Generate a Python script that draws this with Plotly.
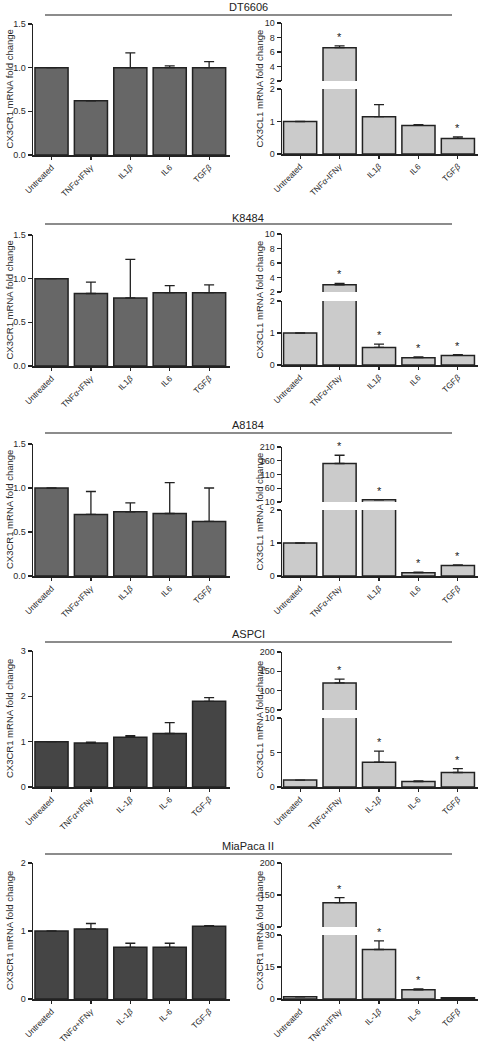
import plotly.graph_objects as go

W, H = 487, 1044

# ---------------- data ----------------
cell_lines = ["DT6606", "K8484", "A8184", "ASPCI", "MiaPaca II"]

cats_a = ["Untreated", "TNF<i>α</i>-IFN<i>γ</i>", "IL1<i>β</i>", "IL6", "TGF<i>β</i>"]
cats_b_left = ["Untreated", "TNF<i>α</i>+IFN<i>γ</i>", "IL-1<i>β</i>", "IL-6", "TGF-<i>β</i>"]
cats_b_right = ["Untreated", "TNF<i>α</i>+IFN<i>γ</i>", "IL-1<i>β</i>", "IL-6", "TGF<i>β</i>"]

left_ylabel = "CX3CR1 mRNA fold change"
right_ylabels = ["CX3CL1 mRNA fold change", "CX3CL1 mRNA fold change", "CX3CL1 mRNA fold change",
                 "CX3CL1 mRNA fold change", "CX3CR1 mRNA fold change"]

# left panels (CX3CR1)
dt6606_r1 = [1.0, 0.62, 1.0, 1.0, 1.0]
dt6606_r1_err = [0, 0, 0.17, 0.02, 0.07]
k8484_r1 = [1.0, 0.83, 0.78, 0.84, 0.84]
k8484_r1_err = [0, 0.13, 0.44, 0.08, 0.09]
a8184_r1 = [1.0, 0.70, 0.73, 0.71, 0.62]
a8184_r1_err = [0, 0.26, 0.10, 0.35, 0.38]
aspci_r1 = [1.0, 0.97, 1.10, 1.18, 1.89]
aspci_r1_err = [0, 0.02, 0.03, 0.24, 0.08]
miapaca_r1 = [1.0, 1.03, 0.76, 0.76, 1.07]
miapaca_r1_err = [0, 0.08, 0.06, 0.06, 0.01]

# right panels (CX3CL1)
dt6606_l1 = [1.0, 6.6, 1.15, 0.88, 0.48]
dt6606_l1_err = [0, 0.25, 0.37, 0.02, 0.05]
dt6606_sig = [False, True, False, False, True]
k8484_l1 = [1.0, 3.0, 0.55, 0.23, 0.30]
k8484_l1_err = [0, 0.2, 0.10, 0.02, 0.02]
k8484_sig = [False, True, True, True, True]
a8184_l1 = [1.0, 150, 18, 0.10, 0.32]
a8184_l1_err = [0, 30, 1.0, 0.02, 0.02]
a8184_sig = [False, True, True, True, True]
aspci_l1 = [1.0, 120, 3.6, 0.8, 2.1]
aspci_l1_err = [0, 10, 1.6, 0.1, 0.55]
aspci_sig = [False, True, True, False, True]
miapaca_l1 = [1.0, 138, 23.2, 4.3, 0.6]
miapaca_l1_err = [0, 8, 4.0, 0.4, 0.05]
miapaca_sig = [False, True, True, True, False]

# tick values
left_ticks = [[0, 0.5, 1.0, 1.5], [0, 0.5, 1.0, 1.5], [0, 0.5, 1.0, 1.5], [0, 1, 2, 3], [0, 1, 2]]
right_low_ticks = [[0, 1, 2], [0, 1, 2], [0, 1, 2], [0, 5, 10], [0, 15, 30]]
right_up_ticks = [[2, 4, 6, 8, 10], [2, 4, 6, 8, 10], [10, 60, 110, 160, 210], [50, 100, 150, 200], [100, 150, 200]]

rows = [
    dict(name=cell_lines[0], lc=cats_a, rc=cats_a, lv=dt6606_r1, le=dt6606_r1_err,
         rv=dt6606_l1, re=dt6606_l1_err, sig=dt6606_sig),
    dict(name=cell_lines[1], lc=cats_a, rc=cats_a, lv=k8484_r1, le=k8484_r1_err,
         rv=k8484_l1, re=k8484_l1_err, sig=k8484_sig),
    dict(name=cell_lines[2], lc=cats_a, rc=cats_a, lv=a8184_r1, le=a8184_r1_err,
         rv=a8184_l1, re=a8184_l1_err, sig=a8184_sig),
    dict(name=cell_lines[3], lc=cats_b_left, rc=cats_b_right, lv=aspci_r1, le=aspci_r1_err,
         rv=aspci_l1, re=aspci_l1_err, sig=aspci_sig),
    dict(name=cell_lines[4], lc=cats_b_left, rc=cats_b_right, lv=miapaca_r1, le=miapaca_r1_err,
         rv=miapaca_l1, re=miapaca_l1_err, sig=miapaca_sig),
]

# ---------------- geometry (pixels) ----------------
geom = [
    dict(ty=7, ly=15, left=(24, 155), up=(23, 81), low=(89, 154)),
    dict(ty=218, ly=224, left=(235, 366), up=(234, 292), low=(301, 365)),
    dict(ty=425, ly=433, left=(444, 576), up=(447, 502), low=(510, 576)),
    dict(ty=634, ly=642, left=(651, 787), up=(652, 710), low=(718, 787)),
    dict(ty=846, ly=854, left=(863, 999), up=(863, 927), low=(935, 999)),
]
left_colors = ["#676767", "#676767", "#676767", "#454545", "#454545"]
right_color = "#cbcbcb"
EDGE = "#222222"
TXT = "#2a2a2a"
FONT = "Liberation Sans, Arial, sans-serif"

LX = (33, 230)
RX = (282, 478)
LXR = [-0.47, 4.53]
RXR = [-0.46, 4.51]


def px(x):
    return x / W


def py(y):
    return 1 - y / H


def ydom(t, b):
    return [py(b), py(t)]


fig = go.Figure()
layout = dict(template="none", width=W, height=H, margin=dict(l=0, r=0, t=0, b=0, autoexpand=False),
              autosize=False, paper_bgcolor="white", plot_bgcolor="white", showlegend=False,
              font=dict(family=FONT, size=9, color=TXT))
annotations = []
shapes = []


def xaxis_cfg(dom, rng, anchor):
    return dict(domain=[px(dom[0]), px(dom[1])], range=rng, anchor=anchor, type="category",
                automargin=False, showline=True, linecolor=EDGE, linewidth=1.5, ticks="outside",
                ticklen=3, tickwidth=1.2, tickcolor=EDGE, tickangle=-45, showgrid=False,
                zeroline=False, tickfont=dict(size=8.3, family=FONT, color=TXT))


def yaxis_cfg(dom, rng, ticks, anchor, fmt=None):
    d = dict(domain=dom, range=rng, anchor=anchor, automargin=False, showline=True,
             linecolor=EDGE, linewidth=1.5, ticks="outside", ticklen=4, tickwidth=1.2,
             tickcolor=EDGE, showgrid=False, zeroline=False, tickvals=ticks,
             tickfont=dict(size=9, family=FONT, color=TXT))
    if fmt:
        d["tickformat"] = fmt
    return d


def bar(cats, vals, errs, color, xr, yr):
    return go.Bar(x=cats, y=vals, xaxis=xr, yaxis=yr, width=0.84,
                  marker=dict(color=color, line=dict(color=EDGE, width=1.5)),
                  error_y=dict(type="data", symmetric=False, array=errs,
                               arrayminus=[0] * len(errs), color=EDGE, thickness=1.3, width=5),
                  hoverinfo="skip")


def sx(i):
    return "x" if i == 1 else f"x{i}"


def sy(i):
    return "y" if i == 1 else f"y{i}"


def kx(i):
    return "xaxis" if i == 1 else f"xaxis{i}"


def ky(i):
    return "yaxis" if i == 1 else f"yaxis{i}"


for r, (row, g) in enumerate(zip(rows, geom)):
    xl, xrt = 2 * r + 1, 2 * r + 2
    yl, ylo, yup = 3 * r + 1, 3 * r + 2, 3 * r + 3

    # left panel
    lt = left_ticks[r]
    layout[kx(xl)] = xaxis_cfg(LX, LXR, sy(yl))
    layout[ky(yl)] = yaxis_cfg(ydom(*g["left"]), [lt[0], lt[-1]], lt, sx(xl),
                               ".1f" if r < 3 else None)
    fig.add_trace(bar(row["lc"], row["lv"], row["le"], left_colors[r], sx(xl), sy(yl)))

    # right panel (broken axis)
    lo, up = right_low_ticks[r], right_up_ticks[r]
    layout[kx(xrt)] = xaxis_cfg(RX, RXR, sy(ylo))
    layout[ky(ylo)] = yaxis_cfg(ydom(*g["low"]), [lo[0], lo[-1]], lo, sx(xrt))
    layout[ky(yup)] = yaxis_cfg(ydom(*g["up"]), [up[0], up[-1]], up, sx(xrt))
    fig.add_trace(bar(row["rc"], row["rv"], row["re"], right_color, sx(xrt), sy(ylo)))
    fig.add_trace(bar(row["rc"], row["rv"], row["re"], right_color, sx(xrt), sy(yup)))

    # significance stars
    for c, v, e, s in zip(row["rc"], row["rv"], row["re"], row["sig"]):
        if not s:
            continue
        top = v + e
        yr = sy(ylo) if top <= lo[-1] else sy(yup)
        annotations.append(dict(x=c, y=top, xref=sx(xrt), yref=yr, text="*", showarrow=False,
                                yanchor="bottom", yshift=1, font=dict(size=11, family=FONT, color=EDGE)))

    # title + line
    annotations.append(dict(x=px(248), y=py(g["ty"]), xref="paper", yref="paper", text=row["name"],
                            showarrow=False, xanchor="center", yanchor="middle",
                            font=dict(size=11, family=FONT, color=EDGE)))
    shapes.append(dict(type="line", xref="paper", yref="paper", x0=px(45), x1=px(452),
                       y0=py(g["ly"]), y1=py(g["ly"]), line=dict(color="#666", width=1.3)))

    # y titles
    lt_c = (g["left"][0] + g["left"][1]) / 2
    rt_c = (g["up"][0] + g["low"][1]) / 2
    annotations.append(dict(x=px(9), y=py(lt_c), xref="paper", yref="paper", text=left_ylabel,
                            textangle=-90, showarrow=False, xanchor="center", yanchor="middle",
                            font=dict(size=9.5, family=FONT, color=TXT)))
    annotations.append(dict(x=px(259), y=py(rt_c), xref="paper", yref="paper", text=right_ylabels[r],
                            textangle=-90, showarrow=False, xanchor="center", yanchor="middle",
                            font=dict(size=9.5, family=FONT, color=TXT)))

layout["annotations"] = annotations
layout["shapes"] = shapes
fig.update_layout(**layout)
fig.write_html("out.html", config={"displayModeBar": False, "staticPlot": True},
               post_script="document.body.style.margin='0';document.body.style.overflow='hidden';")
